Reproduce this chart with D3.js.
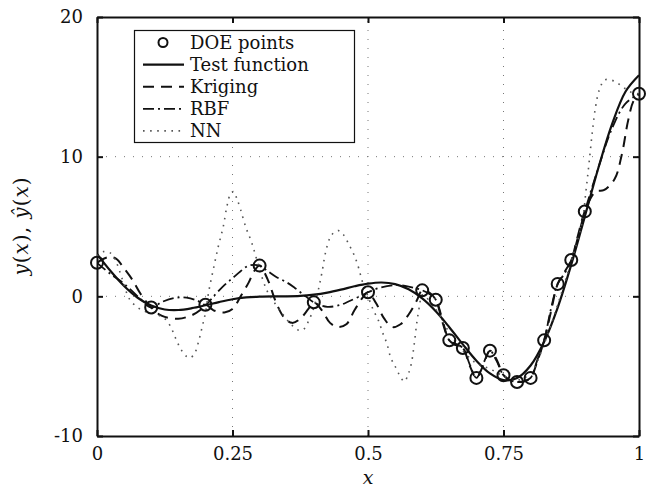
<!DOCTYPE html>
<html>
<head>
<meta charset="utf-8">
<script src="https://cdn.jsdelivr.net/npm/d3@7"></script>
<style>
  body { margin: 0; background: #fff; }
  text { font-family: "DejaVu Serif", serif; fill: #111; }
</style>
</head>
<body>
<script>
var WIDTH = 647,
    HEIGHT = 490;

var margin = {left: 97, right: 8, top: 17, bottom: 54};

// test function, sampled
var testX = [0, 0.025, 0.05, 0.075, 0.1, 0.125, 0.15, 0.175, 0.2, 0.225, 0.25, 0.275, 0.3, 0.325, 0.35, 0.375, 0.4, 0.425, 0.45, 0.475, 0.5,
             0.525, 0.55, 0.575, 0.6, 0.625, 0.65, 0.675, 0.7, 0.725, 0.75, 0.775, 0.8, 0.825, 0.85, 0.875, 0.9, 0.925, 0.95, 0.975, 1];
var testY = [3.03, 1.81, 0.74, -0.10, -0.66, -0.94, -0.98, -0.85, -0.64, -0.41, -0.21, -0.08, -0.02, 0.0, 0.0, 0.03, 0.12, 0.27, 0.48, 0.72, 0.91,
             0.99, 0.87, 0.50, -0.15, -1.07, -2.21, -3.44, -4.61, -5.52, -5.99, -5.85, -4.95, -3.25, -0.80, 2.27, 5.71, 9.19, 12.30, 14.65, 15.83];

// DOE points
var doeX = [0, 0.1, 0.2, 0.3, 0.4, 0.5, 0.6, 0.625, 0.65, 0.675, 0.7, 0.725, 0.75, 0.775, 0.8, 0.825, 0.85, 0.875, 0.9, 1];
var doeY = [2.4, -0.8, -0.6, 2.2, -0.43, 0.29, 0.43, -0.24, -3.15, -3.7, -5.84, -3.89, -5.65, -6.13, -5.84, -3.15, 0.89, 2.6, 6.08, 14.5];

// Kriging
var krigX = [0, 0.02, 0.035, 0.05, 0.065, 0.08, 0.1, 0.12, 0.15, 0.175, 0.19, 0.2, 0.215, 0.235, 0.25, 0.265, 0.28, 0.29, 0.3,
             0.315, 0.33, 0.345, 0.36, 0.375, 0.39, 0.4, 0.415, 0.43, 0.445, 0.46, 0.475, 0.49, 0.5, 0.515, 0.53, 0.545, 0.56, 0.575, 0.59, 0.6,
             0.612, 0.625, 0.637, 0.65, 0.662, 0.675, 0.688, 0.7, 0.712, 0.725, 0.737, 0.75, 0.762, 0.775, 0.787, 0.8, 0.812, 0.825, 0.837,
             0.85, 0.862, 0.875, 0.887, 0.9, 0.92, 0.935, 0.955, 0.968, 0.98, 0.99, 1];
var krigY = [2.4, 2.8, 2.7, 2.0, 1.2, 0.2, -0.8, -1.4, -1.6, -1.35, -1.0, -0.6, -1.0, -1.15, -0.9, 0.0, 1.0, 1.8, 2.2,
             1.2, -0.4, -1.5, -1.9, -1.6, -0.9, -0.43, -1.0, -1.9, -2.2, -2.0, -1.0, -0.1, 0.29, -0.5, -1.6, -2.2, -2.0, -1.3, -0.3, 0.43,
             0.3, -0.24, -1.8, -3.15, -3.5, -3.7, -5.0, -5.84, -5.0, -3.89, -4.5, -5.65, -6.0, -6.13, -6.1, -5.84, -4.7, -3.15, -1.2,
             0.89, 1.7, 2.6, 4.3, 6.08, 7.5, 7.6, 8.4, 10.1, 12.6, 14.0, 14.5];

// RBF
var rbfX = [0, 0.025, 0.05, 0.075, 0.1, 0.12, 0.145, 0.165, 0.185, 0.2, 0.215, 0.235, 0.25, 0.265, 0.28, 0.3,
            0.315, 0.33, 0.35, 0.365, 0.385, 0.4, 0.425, 0.45, 0.465, 0.485, 0.5, 0.52, 0.55, 0.575, 0.6,
            0.612, 0.625, 0.637, 0.65, 0.662, 0.675, 0.688, 0.7, 0.712, 0.725, 0.737, 0.75, 0.762, 0.775, 0.787, 0.8, 0.812, 0.825, 0.837,
            0.85, 0.862, 0.875, 0.887, 0.9, 0.925, 0.95, 0.975, 1];
var rbfY = [2.4, 1.6, 0.9, 0.0, -0.8, -0.4, -0.1, -0.1, -0.3, -0.6, 0.0, 0.8, 1.3, 1.8, 2.2, 2.2,
            1.8, 1.4, 1.0, 0.6, 0.0, -0.43, -0.75, -0.6, -0.35, 0.0, 0.29, 0.6, 0.8, 0.7, 0.43,
            0.2, -0.24, -1.6, -3.15, -3.4, -3.7, -4.9, -5.84, -4.9, -3.89, -4.6, -5.65, -6.0, -6.13, -6.1, -5.84, -4.6, -3.15, -1.0,
            0.89, 1.6, 2.6, 4.2, 6.08, 9.2, 12.0, 13.8, 14.5];

// NN
var nnX = [0, 0.012, 0.025, 0.035, 0.046, 0.06, 0.075, 0.09, 0.11, 0.125, 0.135, 0.145, 0.155, 0.165, 0.172, 0.18, 0.187, 0.194, 0.2,
           0.206, 0.215, 0.224, 0.233, 0.24, 0.246, 0.252, 0.258, 0.265, 0.275, 0.285, 0.295, 0.305, 0.315, 0.33, 0.345, 0.358, 0.37, 0.38,
           0.39, 0.4, 0.408, 0.415, 0.422, 0.43, 0.438, 0.447, 0.455, 0.465, 0.475, 0.483, 0.49, 0.5, 0.51, 0.519, 0.527, 0.535, 0.542,
           0.55, 0.559, 0.567, 0.574, 0.58, 0.585, 0.59, 0.595, 0.6, 0.625, 0.65, 0.675, 0.7, 0.725, 0.75, 0.775, 0.8, 0.825, 0.85, 0.875,
           0.895, 0.902, 0.908, 0.914, 0.92, 0.927, 0.937, 0.955, 0.97, 0.986, 1];
var nnY = [2.9, 3.2, 3.1, 2.5, 1.3, -0.2, -0.8, -1.1, -1.3, -1.6, -2.1, -3.0, -3.8, -4.3, -4.4, -4.1, -3.3, -2.2, -1.2,
           0.3, 2.0, 3.6, 5.0, 6.5, 7.3, 7.5, 7.0, 6.2, 4.9, 3.9, 2.6, 1.3, 0.3, -0.6, -1.4, -2.0, -2.4, -2.4,
           -1.8, -0.8, 0.4, 1.7, 3.2, 4.2, 4.6, 4.7, 4.4, 3.7, 2.9, 2.0, 1.0, 0.0, -1.0, -1.7, -2.6, -3.4, -4.4,
           -5.0, -5.7, -6.1, -5.6, -4.8, -3.5, -1.9, -0.7, 0.1, -0.9, -2.6, -3.9, -4.8, -5.2, -5.7, -6.0, -5.5, -3.4, -0.6, 2.5,
           5.3, 7.5, 9.6, 11.8, 13.6, 14.8, 15.5, 15.4, 15.0, 14.6, 14.5];

var xTicks = [0, 0.25, 0.5, 0.75, 1],
    xTickLabels = ["0", "0.25", "0.5", "0.75", "1"],
    yTicks = [-10, 0, 10, 20],
    yTickLabels = ["-10", "0", "10", "20"];

var legendLabels = ["DOE points", "Test function", "Kriging", "RBF", "NN"];

var x = d3.scaleLinear().domain([0, 1]).range([margin.left, WIDTH - margin.right]);
var y = d3.scaleLinear().domain([-10, 20]).range([HEIGHT - margin.bottom, margin.top]);

var svg = d3.select("body").append("svg")
      .attr("width", WIDTH)
      .attr("height", HEIGHT);

svg.append("defs").append("clipPath").attr("id", "plot-clip")
  .append("rect")
  .attr("x", x(0)).attr("y", y(20))
  .attr("width", x(1) - x(0)).attr("height", y(-10) - y(20));

// grid
svg.append("g").selectAll("line").data([0.25, 0.5, 0.75]).enter().append("line")
  .attr("x1", function(d) { return x(d); })
  .attr("x2", function(d) { return x(d); })
  .attr("y1", y(-10)).attr("y2", y(20))
  .attr("stroke", "#777").attr("stroke-width", 1).attr("stroke-dasharray", "1,8");

svg.append("g").selectAll("line").data([0, 10]).enter().append("line")
  .attr("y1", function(d) { return y(d); })
  .attr("y2", function(d) { return y(d); })
  .attr("x1", x(0)).attr("x2", x(1))
  .attr("stroke", "#777").attr("stroke-width", 1).attr("stroke-dasharray", "1,8");

// axes, ticks inside on all four sides
var axisBottom = d3.axisBottom(x).tickValues(xTicks).tickSizeInner(-6).tickSizeOuter(0)
      .tickFormat(function(d, i) { return xTickLabels[i]; }).tickPadding(11);
var axisTop = d3.axisTop(x).tickValues(xTicks).tickSizeInner(-6).tickSizeOuter(0).tickFormat("");
var axisLeft = d3.axisLeft(y).tickValues(yTicks).tickSizeInner(-6).tickSizeOuter(0).tickPadding(14)
      .tickFormat(function(d, i) { return yTickLabels[i]; });
var axisRight = d3.axisRight(y).tickValues(yTicks).tickSizeInner(-6).tickSizeOuter(0).tickFormat("");

function styleAxis(g) {
  g.select(".domain").attr("stroke", "#111").attr("stroke-width", 2);
  g.selectAll(".tick line").attr("stroke", "#111").attr("stroke-width", 2);
  g.selectAll("text").attr("font-family", "DejaVu Serif, serif").attr("font-size", 18).attr("fill", "#111");
}

svg.append("g").attr("transform", "translate(0," + y(-10) + ")").call(axisBottom).call(styleAxis);
svg.append("g").attr("transform", "translate(0," + y(20) + ")").call(axisTop).call(styleAxis);
svg.append("g").attr("transform", "translate(" + x(0) + ",0)").call(axisLeft).call(styleAxis);
svg.append("g").attr("transform", "translate(" + x(1) + ",0)").call(axisRight).call(styleAxis);

// curves
var series = [
  {xs: testX, ys: testY, dash: null, width: 2.2, color: "#111"},
  {xs: krigX, ys: krigY, dash: "11,7", width: 2, color: "#111"},
  {xs: rbfX, ys: rbfY, dash: "11,4,2,4", width: 1.8, color: "#111"},
  {xs: nnX, ys: nnY, dash: "1.6,5.5", width: 1.6, color: "#555"}
];

var line = d3.line()
  .x(function(d) { return x(d[0]); })
  .y(function(d) { return y(d[1]); })
  .curve(d3.curveCatmullRom.alpha(0.5));

var curves = svg.append("g").attr("clip-path", "url(#plot-clip)");

curves.selectAll("path").data(series).enter().append("path")
  .attr("d", function(s) { return line(d3.zip(s.xs, s.ys)); })
  .attr("fill", "none")
  .attr("stroke", function(s) { return s.color; })
  .attr("stroke-width", function(s) { return s.width; })
  .attr("stroke-dasharray", function(s) { return s.dash; });

svg.append("g").selectAll("circle").data(d3.zip(doeX, doeY)).enter().append("circle")
  .attr("cx", function(d) { return x(d[0]); })
  .attr("cy", function(d) { return y(d[1]); })
  .attr("r", 6)
  .attr("fill", "none")
  .attr("stroke", "#111")
  .attr("stroke-width", 2);

// axis labels
svg.append("text")
  .attr("x", x(0.5)).attr("y", 484)
  .attr("text-anchor", "middle")
  .attr("font-size", 19)
  .attr("font-style", "italic")
  .text("x");

var ylab = svg.append("text")
  .attr("transform", "translate(28,226) rotate(-90)")
  .attr("text-anchor", "middle")
  .attr("font-size", 20)
  .attr("letter-spacing", 1);
[["y", true], ["(", false], ["x", true], ["), ", false], ["ŷ", true], ["(", false], ["x", true], [")", false]]
  .forEach(function(p) {
    ylab.append("tspan").attr("font-style", p[1] ? "italic" : "normal").text(p[0]);
  });

// legend
var legend = svg.append("g");
legend.append("rect")
  .attr("x", 134.5).attr("y", 30.5)
  .attr("width", 220).attr("height", 112)
  .attr("fill", "#fff").attr("stroke", "#111").attr("stroke-width", 1.2);

var rows = legend.selectAll("g.row").data(legendLabels).enter().append("g")
  .attr("class", "row")
  .attr("transform", function(d, i) { return "translate(0," + (42.5 + i * 22.1) + ")"; });

rows.append("text")
  .attr("x", 190).attr("y", 6)
  .attr("font-size", 18)
  .text(function(d) { return d; });

rows.filter(function(d, i) { return i === 0; }).append("circle")
  .attr("cx", 163).attr("cy", 0).attr("r", 4.5)
  .attr("fill", "none").attr("stroke", "#111").attr("stroke-width", 2);

rows.filter(function(d, i) { return i > 0; }).append("line")
  .attr("x1", 143).attr("x2", 184).attr("y1", 0).attr("y2", 0)
  .attr("stroke", function(d, i) { return series[i].color; })
  .attr("stroke-width", function(d, i) { return series[i].width; })
  .attr("stroke-dasharray", function(d, i) { return series[i].dash; });
</script>
</body>
</html>
